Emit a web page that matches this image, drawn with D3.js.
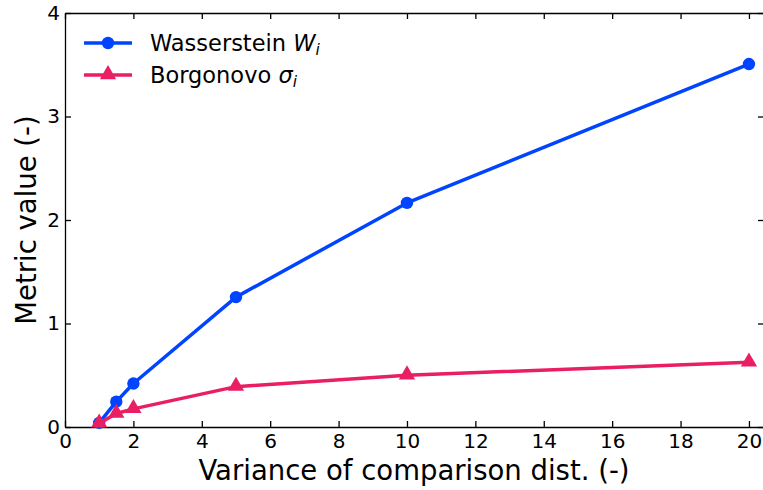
<!DOCTYPE html>
<html><head><meta charset="utf-8">
<script src="https://cdn.jsdelivr.net/npm/d3@7"></script>
<style>body{margin:0;background:#fff}svg{display:block;font-family:"DejaVu Sans",sans-serif}</style>
</head><body><svg id="c" width="763" height="490"></svg>
<script>
const xValues = [1, 1.5, 2, 5, 10, 20];
const wasserstein = [0.04, 0.245, 0.42, 1.255, 2.165, 3.507];
const borgonovo = [0.035, 0.13, 0.175, 0.39, 0.5, 0.625];
const xTicks = [0, 2, 4, 6, 8, 10, 12, 14, 16, 18, 20];
const yTicks = [0, 1, 2, 3, 4];

const svg = d3.select("#c");
const L = 65, R = 764, T = 13, B = 427;
const x = d3.scaleLinear().domain([0, 20.44]).range([L, R]);
const y = d3.scaleLinear().domain([0, 4]).range([B, T]);
const blue = "#0044ff", pink = "#e91e63";

// axes
const tl = 6;
const gx = svg.append("g").attr("transform", `translate(0,${B})`)
  .call(d3.axisBottom(x).tickValues(xTicks).tickSizeInner(-tl).tickSizeOuter(0).tickPadding(7).tickFormat(d3.format("d")));
const gxt = svg.append("g").attr("transform", `translate(0,${T})`)
  .call(d3.axisTop(x).tickValues(xTicks).tickSizeInner(-tl).tickSizeOuter(0).tickFormat(""));
const gy = svg.append("g").attr("transform", `translate(${L},0)`)
  .call(d3.axisLeft(y).tickValues(yTicks).tickSizeInner(-tl).tickSizeOuter(0).tickPadding(5).tickFormat(d3.format("d")));
const gyr = svg.append("g").attr("transform", `translate(${R},0)`)
  .call(d3.axisRight(y).tickValues(yTicks).tickSizeInner(-tl).tickSizeOuter(0).tickFormat(""));
[gx, gxt, gy, gyr].forEach(g => {
  g.selectAll("path").attr("stroke", "#000").attr("stroke-width", 1.3);
  g.selectAll("line").attr("stroke", "#000").attr("stroke-width", 1.3);
  g.selectAll("text").attr("font-size", 20).attr("font-family", "DejaVu Sans").attr("fill", "#000");
});

// lines
const line = d3.line().x((d, i) => x(xValues[i])).y(d => y(d));
svg.append("path").datum(wasserstein).attr("d", line).attr("fill", "none")
  .attr("stroke", blue).attr("stroke-width", 3.5).attr("stroke-linejoin", "round");
svg.selectAll(".wc").data(wasserstein).enter().append("circle")
  .attr("cx", (d, i) => x(xValues[i])).attr("cy", d => y(d)).attr("r", 6.2).attr("fill", blue);
svg.append("path").datum(borgonovo).attr("d", line).attr("fill", "none")
  .attr("stroke", pink).attr("stroke-width", 3.5).attr("stroke-linejoin", "round");
const tri = d3.symbol().type(d3.symbolTriangle).size(115);
svg.selectAll(".bt").data(borgonovo).enter().append("path")
  .attr("d", tri).attr("transform", (d, i) => `translate(${x(xValues[i])},${y(d) - 0.5})`).attr("fill", pink);

// legend
const lg = svg.append("g");
const items = [{c: blue, s: "c", main: "Wasserstein ", sym: "W"}, {c: pink, s: "t", main: "Borgonovo ", sym: "σ"}];
items.forEach((it, i) => {
  const yy = 43 + i * 32;
  lg.append("line").attr("x1", 84).attr("x2", 132).attr("y1", yy).attr("y2", yy)
    .attr("stroke", it.c).attr("stroke-width", 3.5);
  if (it.s === "c") lg.append("circle").attr("cx", 108).attr("cy", yy).attr("r", 6.2).attr("fill", it.c);
  else lg.append("path").attr("d", tri).attr("transform", `translate(108,${yy - 0.5})`).attr("fill", it.c);
  const t = lg.append("text").attr("x", 150).attr("y", yy + 8).attr("font-size", 22.5).attr("fill", "#000");
  t.append("tspan").text(it.main);
  t.append("tspan").attr("font-style", "italic").text(it.sym);
  t.append("tspan").attr("font-style", "italic").attr("font-size", 15.5).attr("dy", 4).text("i");
});

// axis titles
svg.append("text").attr("x", (L + 763) / 2).attr("y", 480).attr("text-anchor", "middle")
  .attr("font-size", 27.5).attr("fill", "#000").text("Variance of comparison dist. (-)");
svg.append("text").attr("transform", `translate(36,${(T + B) / 2}) rotate(-90)`).attr("text-anchor", "middle")
  .attr("font-size", 27.5).attr("fill", "#000").text("Metric value (-)");
</script></body></html>
